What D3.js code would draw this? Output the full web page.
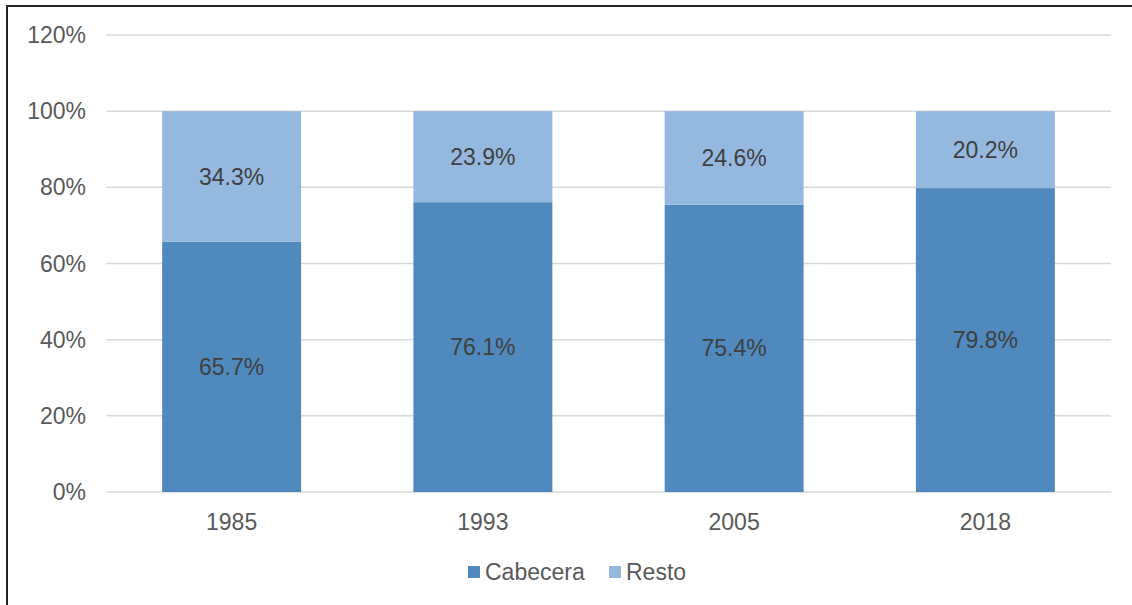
<!DOCTYPE html>
<html>
<head>
  <meta charset="utf-8">
  <title>Cabecera / Resto</title>
  <script src="https://cdn.jsdelivr.net/npm/d3@7"></script>
  <style>
    body { margin: 0; background: #fff; }
    svg { display: block; font-family: "Liberation Sans", Arial, sans-serif; }
  </style>
</head>
<body>
<svg id="chart" width="1132" height="605"></svg>
<script>
  // data
  var years = ['1985', '1993', '2005', '2018'];
  var cabecera = [65.7, 76.1, 75.4, 79.8];
  var resto = [34.3, 23.9, 24.6, 20.2];
  var seriesNames = ['Cabecera', 'Resto'];
  var seriesColors = ['#4f89bd', '#95b8df'];
  var yTicks = [0, 20, 40, 60, 80, 100, 120];

  var svg = d3.select('#chart');
  var margin = {left: 106, right: 21, top: 35, bottom: 113};
  var W = 1132, H = 605;

  // outer frame
  svg.append('rect')
    .attr('x', 7).attr('y', 6)
    .attr('width', W + 10).attr('height', H + 10)
    .attr('fill', 'none').attr('stroke', '#262626').attr('stroke-width', 2);

  var x = d3.scaleBand().domain(years)
    .range([margin.left, W - margin.right])
    .paddingInner(0.447).paddingOuter(0.2235);
  var y = d3.scaleLinear().domain([0, 120]).range([H - margin.bottom, margin.top]);

  // gridlines
  svg.append('g').selectAll('line').data(yTicks).enter().append('line')
    .attr('x1', margin.left).attr('x2', W - margin.right)
    .attr('y1', function (d) { return y(d); })
    .attr('y2', function (d) { return y(d); })
    .attr('stroke', '#d9d9d9').attr('stroke-width', 1.5);

  // y tick labels
  svg.append('g').selectAll('text').data(yTicks).enter().append('text')
    .attr('x', 86).attr('y', function (d) { return y(d); })
    .attr('dy', '0.35em').attr('text-anchor', 'end')
    .attr('font-size', 23).attr('fill', '#595959')
    .text(function (d) { return d + '%'; });

  // stacked data
  var rows = years.map(function (yr, i) {
    return {year: yr, Cabecera: cabecera[i], Resto: resto[i]};
  });
  var stacked = d3.stack().keys(seriesNames)(rows);

  var layers = svg.append('g').selectAll('g').data(stacked).enter().append('g')
    .attr('fill', function (d, i) { return seriesColors[i]; });

  layers.selectAll('rect').data(function (d) { return d; }).enter().append('rect')
    .attr('x', function (d) { return x(d.data.year); })
    .attr('width', x.bandwidth())
    .attr('y', function (d) { return y(d[1]); })
    .attr('height', function (d) { return y(d[0]) - y(d[1]); });

  // value labels
  stacked.forEach(function (layer) {
    svg.append('g').selectAll('text').data(layer).enter().append('text')
      .attr('x', function (d) { return x(d.data.year) + x.bandwidth() / 2; })
      .attr('y', function (d) { return y((d[0] + d[1]) / 2); })
      .attr('dy', '0.35em').attr('text-anchor', 'middle')
      .attr('font-size', 23).attr('fill', '#404040')
      .text(function (d) { return d.data[layer.key].toFixed(1) + '%'; });
  });

  // x labels
  svg.append('g').selectAll('text').data(years).enter().append('text')
    .attr('x', function (d) { return x(d) + x.bandwidth() / 2; })
    .attr('y', y(0) + 30).attr('dy', '0.35em')
    .attr('text-anchor', 'middle')
    .attr('font-size', 23).attr('fill', '#595959')
    .text(function (d) { return d; });

  // legend
  var legendX = [468, 609];
  var legend = svg.append('g').selectAll('g').data(seriesNames).enter().append('g')
    .attr('transform', function (d, i) { return 'translate(' + legendX[i] + ',566)'; });
  legend.append('rect').attr('width', 12).attr('height', 12)
    .attr('fill', function (d, i) { return seriesColors[i]; });
  legend.append('text').attr('x', 17).attr('y', 6).attr('dy', '0.35em')
    .attr('font-size', 23).attr('fill', '#595959')
    .text(function (d) { return d; });
</script>
</body>
</html>
